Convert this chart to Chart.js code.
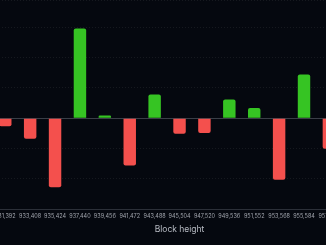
<!DOCTYPE html>
<html>
<head>
<meta charset="utf-8">
<script src="https://cdn.jsdelivr.net/npm/chart.js@4/dist/chart.umd.min.js"></script>
<style>
  html, body { margin: 0; padding: 0; background: #05080f; overflow: hidden; }
  #wrap { position: absolute; left: -9px; top: 0; width: 377px; height: 245px; }
</style>
</head>
<body>
<div id="wrap"><canvas id="chart"></canvas></div>
<script>
const blockHeights = [
  '931,392', '933,408', '935,424', '937,440', '939,456', '941,472', '943,488',
  '945,504', '947,520', '949,536', '951,552', '953,568', '955,584', '957,600', '959,616'
];
// difficulty change per epoch, %
const changes = [
  -0.53, -1.36, -4.56, 5.92, 0.18, -3.12, 1.56,
  -1.02, -0.98, 1.24, 0.68, -4.06, 2.88, -2.02, 1.0
];

const GREEN = '#36c423';
const RED = '#f4504d';

function init() {
  new Chart(document.getElementById('chart'), {
    type: 'bar',
    data: {
      labels: blockHeights,
      datasets: [{
        data: changes,
        backgroundColor: changes.map(v => v >= 0 ? GREEN : RED),
        borderRadius: 2,
        borderSkipped: 'start',
        barPercentage: 0.5,
        categoryPercentage: 1
      }]
    },
    options: {
      responsive: true,
      maintainAspectRatio: false,
      animation: false,
      layout: { padding: { top: 0, bottom: 1, left: 0, right: 0 } },
      plugins: { legend: { display: false }, tooltip: { enabled: false } },
      scales: {
        x: {
          grid: { display: false, drawTicks: false },
          border: { display: true, color: '#2b2f38', width: 1 },
          ticks: {
            color: '#a0a4ac',
            font: { size: 5.5, family: 'Inter' },
            padding: 4,
            maxRotation: 0,
            autoSkip: false
          },
          title: {
            display: true,
            text: 'Block height',
            color: '#b8bcc4',
            font: { size: 8.5, family: 'Inter' },
            padding: { top: 1, bottom: 9 }
          }
        },
        y: {
          min: -6,
          max: 7.8,
          ticks: { display: false, stepSize: 2 },
          border: { display: false, dash: ctx => ctx.tick && ctx.tick.value === 0 ? [] : [1, 2] },
          grid: {
            drawTicks: false,
            color: ctx => ctx.tick.value === 0 ? '#3a3e47' : 'rgba(255,255,255,0.07)'
          }
        }
      }
    }
  });
}

init();
</script>
</body>
</html>
